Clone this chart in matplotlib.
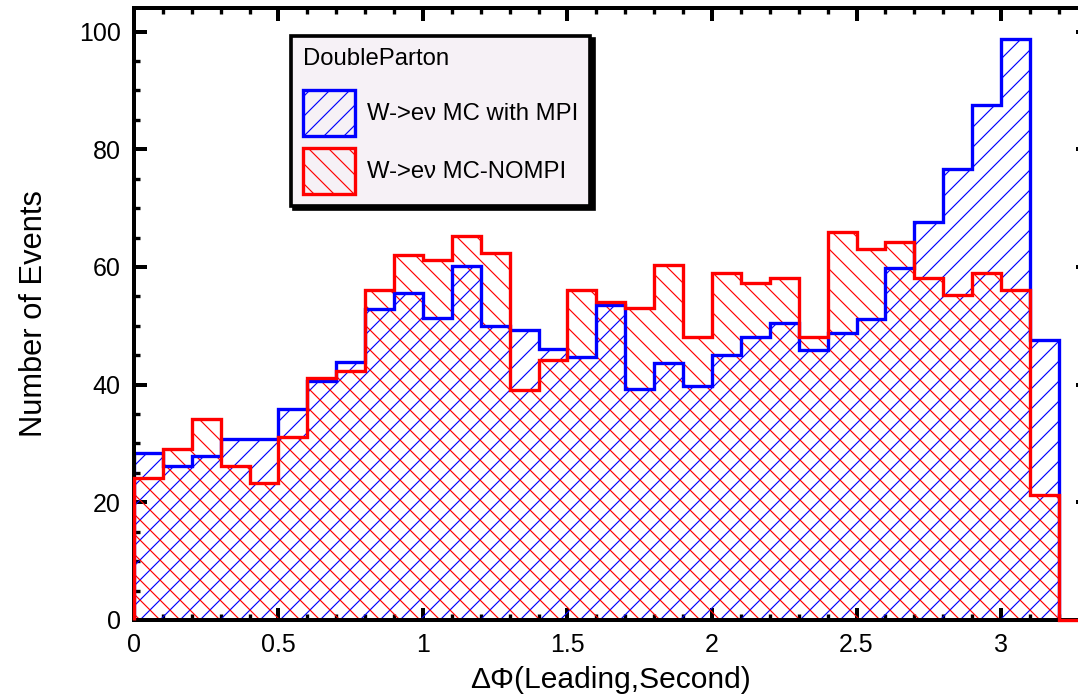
import numpy as np
import matplotlib
matplotlib.use('Agg')
import matplotlib.pyplot as plt
from matplotlib.ticker import MultipleLocator
from matplotlib.patches import Patch

# 33 bins of width 0.1 from 0 to 3.3 in delta-phi
bin_edges = np.round(np.arange(0, 3.31, 0.1), 2)

# W->enu MC with MPI (blue)
with_mpi = [28.4, 26.1, 27.9, 30.7, 30.7, 35.8, 40.6, 43.9, 52.9, 55.6,
            51.3, 60.1, 49.9, 49.3, 46.1, 44.7, 53.6, 39.3, 43.7, 39.7,
            45.0, 48.1, 50.5, 45.8, 48.7, 51.1, 59.9, 67.6, 76.6, 87.5,
            98.8, 47.5, 0.0]

# W->enu MC-NOMPI (red)
no_mpi = [24.1, 29.0, 34.1, 26.1, 23.3, 31.1, 41.1, 42.3, 56.0, 62.1,
          61.1, 65.2, 62.3, 39.0, 44.1, 56.0, 54.0, 53.1, 60.3, 48.1,
          59.0, 57.3, 58.1, 48.1, 66.0, 63.0, 64.2, 58.1, 55.2, 59.0,
          56.1, 21.2, 0.0]

labels = ['W->e\u03bd MC with MPI', 'W->e\u03bd MC-NOMPI']
legend_title = 'DoubleParton'

plt.rcParams['font.family'] = ['Liberation Sans', 'DejaVu Sans']
plt.rcParams['hatch.linewidth'] = 0.7

DPI = 120
fig = plt.figure(figsize=(1078 / DPI, 696 / DPI), dpi=DPI)
ax = fig.add_axes([0.1243, 0.1092, 0.8847, 0.8793])

# hatched areas first, outlines on top (outline is open at the bottom)
ax.stairs(with_mpi, bin_edges, fill=True, facecolor='none', edgecolor='blue',
          hatch='//', lw=0, zorder=2)
ax.stairs(no_mpi, bin_edges, fill=True, facecolor='none', edgecolor='red',
          hatch='\\\\', lw=0, zorder=2)
ax.stairs(with_mpi, bin_edges, color='blue', lw=2.0, zorder=3)
ax.stairs(no_mpi, bin_edges, color='red', lw=2.0, zorder=6, clip_on=False)

ax.set_xlim(0, 3.3)
ax.set_ylim(0, 104)

ax.xaxis.set_minor_locator(MultipleLocator(0.1))
ax.yaxis.set_major_locator(MultipleLocator(20))
ax.yaxis.set_minor_locator(MultipleLocator(5))
ax.set_xticks([0, 0.5, 1, 1.5, 2, 2.5, 3])
ax.set_xticklabels(['0', '0.5', '1', '1.5', '2', '2.5', '3'])

ax.tick_params(which='both', direction='in', top=True, right=True,
               labelsize=15)
ax.tick_params(which='major', length=7.5, width=2.4, pad=8)
ax.tick_params(which='minor', length=3.5, width=2.0)
for sp in ax.spines.values():
    sp.set_linewidth(2.4)
    sp.set_zorder(5)

ax.set_xlabel('\u0394\u03a6(Leading,Second)', fontsize=18, labelpad=5)
ax.set_ylabel('Number of Events', fontsize=18.5, labelpad=18)

# legend built from proxy patches so the handles get the hatch
handles = [Patch(facecolor='none', edgecolor='blue', hatch='//', lw=2.0),
           Patch(facecolor='none', edgecolor='red', hatch='\\\\', lw=2.0)]
leg = ax.legend(handles, labels, loc='upper left',
                bbox_to_anchor=(0.1646, 0.954),
                borderaxespad=0, fontsize=14.3, title=legend_title,
                title_fontsize=14.3, alignment='left', fancybox=False,
                shadow={'color': 'black', 'alpha': 1.0},
                facecolor='#f6f1f6', framealpha=1, edgecolor='black',
                handlelength=2.2, handleheight=2.6, handletextpad=0.5,
                labelspacing=0.5, borderpad=0.5)
leg.get_frame().set_linewidth(2.2)
leg._legend_box.sep = 12  # extra room under the title
leg.set_zorder(10)

fig.savefig('out.png', dpi=DPI)
